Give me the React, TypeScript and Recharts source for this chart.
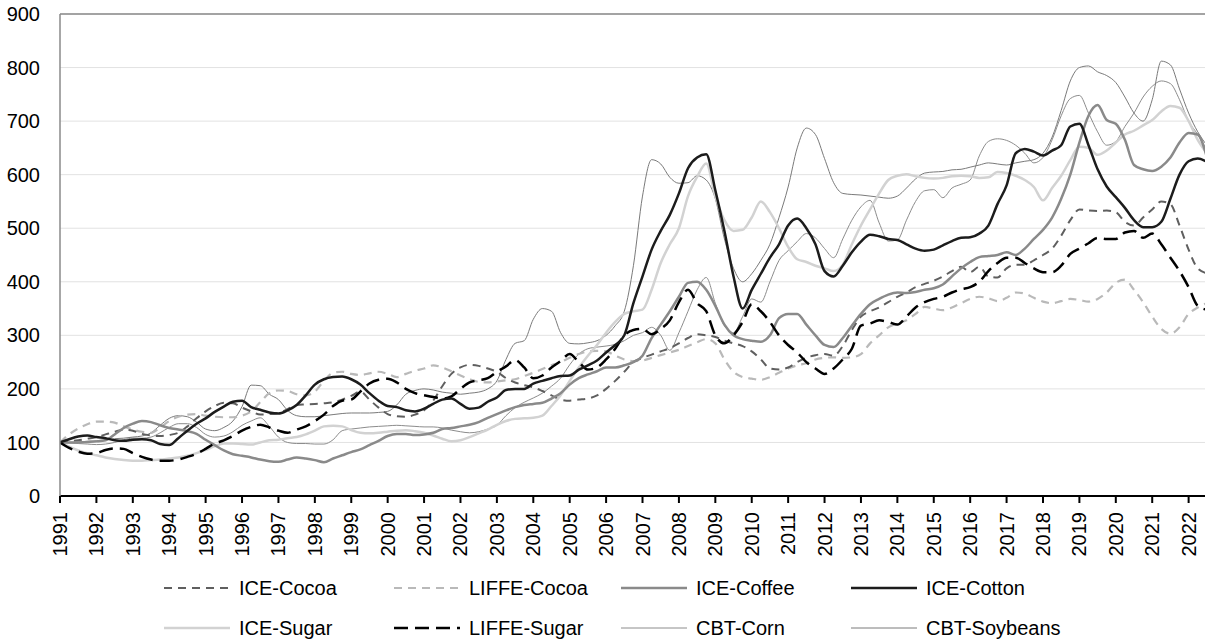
import { LineChart, Line, XAxis, YAxis, CartesianGrid, ReferenceLine } from 'recharts';

// quarterly observations, 1991.00 .. 2022.50
const START = 1991;
const STEP = 0.25;

const yearTicks = [
  1991, 1992, 1993, 1994, 1995, 1996, 1997, 1998, 1999, 2000, 2001, 2002, 2003, 2004, 2005, 2006,
  2007, 2008, 2009, 2010, 2011, 2012, 2013, 2014, 2015, 2016, 2017, 2018, 2019, 2020, 2021, 2022,
];
const valueTicks = [0, 100, 200, 300, 400, 500, 600, 700, 800, 900];

const iceCocoa = [
  100, 102, 104, 107, 110, 115, 120, 124, 122, 116, 113, 112, 114, 118, 130, 145,
  158, 168, 174, 173, 165, 158, 152, 153, 155, 162, 170, 171, 172, 173, 175, 180,
  187, 195, 180, 165, 153, 149, 148, 152, 160, 178, 205, 228, 240, 245, 243, 238,
  232, 220, 212, 207, 203, 196, 188, 180, 178, 180, 182, 188, 200, 215, 232, 250,
  258, 264, 270, 276, 285, 295, 302, 300, 297, 290, 285, 280, 270, 255, 238, 236,
  240, 250, 258, 263, 265, 262, 280, 310, 335, 345, 352, 362, 372, 380, 390, 396,
  402, 410, 420, 428, 418, 428, 410, 408, 425, 432, 432, 440, 450, 462, 486, 515,
  535, 533, 532, 533, 530, 512, 505, 520, 535, 550, 545, 505, 460, 425, 416,
];

const liffeCocoa = [
  100, 115, 126, 134, 139, 139, 137, 130, 124, 120, 118, 128, 140, 148, 152, 153,
  150, 148, 147, 147, 150, 158, 175, 192, 197, 196, 190, 188, 195, 215, 230, 232,
  228, 226, 229, 232, 228, 222, 228, 234, 238, 244, 240, 233, 225, 218, 213, 212,
  214, 216, 218, 224, 230, 237, 244, 250, 258, 265, 270, 271, 270, 262, 255, 252,
  253, 258, 263, 268, 273, 280, 287, 293, 285, 255, 232, 222, 219, 217, 222, 230,
  238, 244, 248, 255, 258, 259, 258, 259, 265, 285, 300, 315, 322, 328, 340, 353,
  350, 347, 352, 360, 368, 372, 369, 364, 370, 380, 378, 370, 363, 360, 364, 368,
  366, 363, 368, 380, 398, 404, 385, 362, 335, 312, 303, 315, 340, 352, 360,
];

const iceCoffee = [
  100, 100, 100, 101, 102, 104, 115, 127, 135, 140, 138, 132, 127, 124, 121, 116,
  105, 95, 85, 78, 75, 72, 68, 65, 64, 68, 72, 70, 67, 63, 70, 76,
  82, 87, 95, 103, 112, 116, 116, 114, 115, 118, 125, 127, 130, 133, 138, 146,
  153, 160, 166, 170, 172, 174, 182, 192, 208, 220, 227, 233, 240, 240, 244, 250,
  262, 295, 320, 345, 372, 398, 400, 385, 355, 320, 300, 293, 290, 288, 300, 332,
  340, 340, 320, 300, 282, 278, 295, 318, 340, 358, 368, 376, 380, 379, 381, 385,
  388, 395, 410, 425, 437, 446, 448, 450, 455, 450, 462, 480, 497, 520, 555, 600,
  660, 710, 730, 702, 695, 665, 618, 610, 607, 615, 632, 660, 678, 675, 633,
];

const iceCotton = [
  100, 106, 111, 113, 110, 108, 104, 103, 105, 106, 104, 97, 95, 108, 122, 135,
  145, 157, 167, 176, 178, 166, 161, 156, 154, 160, 170, 188, 208, 218, 222, 223,
  218, 208, 192, 178, 168, 166, 160, 158, 163, 172, 180, 182, 172, 163, 165, 176,
  184, 198, 200, 200, 210, 215, 220, 224, 225, 236, 244, 253, 268, 282, 300, 360,
  410, 460, 495, 525, 565, 612, 632, 638, 571, 495, 410, 350, 385, 415, 445, 470,
  505, 518, 500, 470, 420, 410, 430, 455, 475, 488, 485, 480, 478, 470, 462, 458,
  460, 468, 476, 482, 483, 490, 505, 545, 580, 640, 648, 643, 636, 645, 655, 690,
  695, 655, 610, 578, 558, 538, 515, 502, 502, 512, 555, 600, 625, 630, 624,
];

const iceSugar = [
  100, 92, 85, 80, 76, 72, 69, 67, 66, 66, 67, 68, 70, 72, 75, 80,
  86, 93, 98, 98, 97, 96, 100, 104, 105, 108, 110, 115, 122, 130, 131, 130,
  123, 118, 117, 118, 120, 122, 123, 121, 118, 113, 107, 102, 104, 110, 117, 124,
  133, 140, 144, 145, 146, 150, 168, 188, 215, 240, 262, 282, 305, 325, 340, 345,
  348, 385, 435, 470, 500, 560, 596, 621, 560, 515, 495, 497, 520, 550, 530, 500,
  465, 442, 437, 430, 425, 420, 432, 470, 505, 535, 565, 590, 598, 601, 597, 594,
  593, 594, 597, 598, 597, 594, 595, 605, 603, 598, 590, 577, 552, 575, 598, 627,
  652, 650, 637, 645, 660, 675, 682, 692, 702, 718, 728, 725, 700, 665, 640,
];

const liffeSugar = [
  100, 90, 83, 79, 80, 86, 89, 88, 80, 73, 68, 66, 66, 68, 73, 79,
  88, 98, 104, 112, 122, 129, 133, 128, 122, 118, 124, 130, 140, 152, 168, 178,
  180, 195, 210, 217, 219, 212, 200, 192, 188, 185, 182, 186, 200, 212, 216, 220,
  232, 242, 254, 240, 220, 225, 240, 252, 265, 250, 236, 240, 255, 275, 300, 310,
  312, 302, 312, 328, 362, 385, 360, 345, 300, 285, 300, 325, 358, 345, 325, 300,
  282, 268, 250, 238, 228, 238, 255, 275, 318, 322, 328, 325, 320, 335, 352, 362,
  368, 372, 380, 386, 390, 400, 420, 435, 445, 445, 435, 425, 418, 418, 430, 452,
  462, 472, 482, 480, 480, 492, 495, 482, 490, 470, 445, 420, 390, 355, 348,
];

const cbtCorn = [
  100, 99, 98, 97, 96, 97, 100, 105, 108, 108, 110, 118, 128, 135, 135, 128,
  115, 110, 112, 120, 132, 140, 146, 130, 110, 100, 98, 98, 97, 97, 105, 122,
  125, 127, 129, 130, 131, 132, 131, 130, 129, 129, 127, 123, 120, 118, 120, 125,
  132, 150, 165, 175, 183, 192, 205, 220, 245, 265, 275, 278, 280, 283, 290, 300,
  305, 315, 300, 272, 305, 345, 385, 408, 360, 318, 305, 335, 368, 362, 400, 440,
  458, 475, 490, 482, 462, 445, 480, 515, 540, 552, 510, 476, 478, 515, 550, 570,
  572, 557, 575, 582, 590, 635, 662, 667, 664, 655, 640, 622, 632, 665, 710, 742,
  748, 715, 680, 655, 662, 690, 715, 745, 765, 775, 770, 740, 700, 675, 646,
];

const cbtSoybeans = [
  100, 100, 101, 102, 103, 105, 107, 108, 110, 112, 118, 132, 145, 150, 148, 138,
  125, 122, 128, 140, 167, 207, 206, 190, 180, 160, 150, 148, 148, 150, 152, 154,
  155, 155, 155, 156, 158, 170, 190, 197, 200, 198, 194, 192, 190, 192, 194, 200,
  215, 255, 285, 290, 330, 350, 345, 305, 285, 284, 286, 290, 300, 318, 345, 430,
  560, 628, 620, 595, 584, 585, 598, 590, 555, 480, 425, 400, 415, 440, 470, 520,
  577, 650, 687, 675, 630, 585, 565, 563, 562, 560, 558, 556, 560, 575, 592, 603,
  605, 606, 609, 610, 614, 618, 622, 620, 618, 622, 625, 628, 640, 670, 720, 775,
  800, 803, 792, 785, 772, 745, 715, 700, 740, 812, 805, 760, 715, 680, 655,
];

const chartData = iceCotton.map((_, i) => ({
  t: START + i * STEP,
  iceCocoa: iceCocoa[i],
  liffeCocoa: liffeCocoa[i],
  iceCoffee: iceCoffee[i],
  iceCotton: iceCotton[i],
  iceSugar: iceSugar[i],
  liffeSugar: liffeSugar[i],
  cbtCorn: cbtCorn[i],
  cbtSoybeans: cbtSoybeans[i],
}));

const FONT = '"Liberation Sans", Arial, sans-serif';

const series = [
  { key: 'iceCocoa', name: 'ICE-Cocoa', color: '#5f5f5f', width: 2, dash: '8 6' },
  { key: 'liffeCocoa', name: 'LIFFE-Cocoa', color: '#b9b9b9', width: 2.2, dash: '8 6' },
  { key: 'iceCoffee', name: 'ICE-Coffee', color: '#8a8a8a', width: 2.5 },
  { key: 'iceCotton', name: 'ICE-Cotton', color: '#1c1c1c', width: 2.5 },
  { key: 'iceSugar', name: 'ICE-Sugar', color: '#d2d2d2', width: 2.5 },
  { key: 'liffeSugar', name: 'LIFFE-Sugar', color: '#000000', width: 2.5, dash: '14 7' },
  { key: 'cbtCorn', name: 'CBT-Corn', color: '#8c8c8c', width: 1 },
  { key: 'cbtSoybeans', name: 'CBT-Soybeans', color: '#7a7a7a', width: 1 },
];

// drawing order: thin lines underneath, black cotton on top
const drawOrder = ['cbtCorn', 'cbtSoybeans', 'liffeCocoa', 'iceCocoa', 'iceSugar', 'iceCoffee', 'liffeSugar', 'iceCotton'];

function YearTick({ x, y, payload }: any) {
  const ty = y + 7;
  return (
    <text
      x={x}
      y={ty}
      transform={`rotate(-90, ${x}, ${ty})`}
      textAnchor="end"
      dominantBaseline="central"
      fontSize={20}
      fontFamily={FONT}
      fill="#000"
    >
      {payload.value}
    </text>
  );
}

const legendCols = [164, 394, 621, 851];
const legendRows = [588, 628];

function ChartLegend() {
  return (
    <div style={{ position: 'absolute', left: 0, top: 0, width: 1205, height: 644, pointerEvents: 'none' }}>
      {series.map((s, i) => {
        const left = legendCols[i % 4];
        const top = legendRows[Math.floor(i / 4)];
        return (
          <div key={s.key} style={{ position: 'absolute', left, top: top - 12, height: 24, display: 'flex', alignItems: 'center' }}>
            <svg width={66} height={10} style={{ display: 'block' }}>
              <line x1={0} y1={5} x2={66} y2={5} stroke={s.color} strokeWidth={s.width} strokeDasharray={s.dash} />
            </svg>
            <span style={{ marginLeft: 9, fontFamily: FONT, fontSize: 20, color: '#000', whiteSpace: 'nowrap' }}>{s.name}</span>
          </div>
        );
      })}
    </div>
  );
}

export default function App() {
  return (
    <div style={{ position: 'absolute', left: 0, top: 0, width: 1205, height: 644, background: '#fff' }}>
      <LineChart width={1205} height={644} data={chartData} margin={{ top: 14, right: 0, left: 0, bottom: 0 }}>
        <CartesianGrid vertical={false} stroke="#e2e2e2" />
        <XAxis
          dataKey="t"
          type="number"
          domain={[1991, 2022.45]}
          ticks={yearTicks}
          allowDataOverflow
          height={148}
          tick={<YearTick />}
          tickSize={7}
          axisLine={{ stroke: '#000', strokeWidth: 2 }}
          tickLine={{ stroke: '#000', strokeWidth: 2 }}
          interval={0}
        />
        <YAxis
          type="number"
          domain={[0, 900]}
          ticks={valueTicks}
          width={60}
          tickLine={false}
          tickMargin={14}
          axisLine={{ stroke: '#8a8a8a', strokeWidth: 1.5 }}
          tick={{ fontSize: 20, fontFamily: FONT, fill: '#000' }}
          interval={0}
        />
        <ReferenceLine y={900} stroke="#a3a3a3" strokeWidth={2} />
        {drawOrder.map((k) => {
          const s = series.find((x) => x.key === k)!;
          return (
            <Line
              key={s.key}
              type="monotone"
              dataKey={s.key}
              name={s.name}
              stroke={s.color}
              strokeWidth={s.width}
              strokeDasharray={s.dash}
              dot={false}
              activeDot={false}
              isAnimationActive={false}
            />
          );
        })}
      </LineChart>
      <ChartLegend />
    </div>
  );
}
